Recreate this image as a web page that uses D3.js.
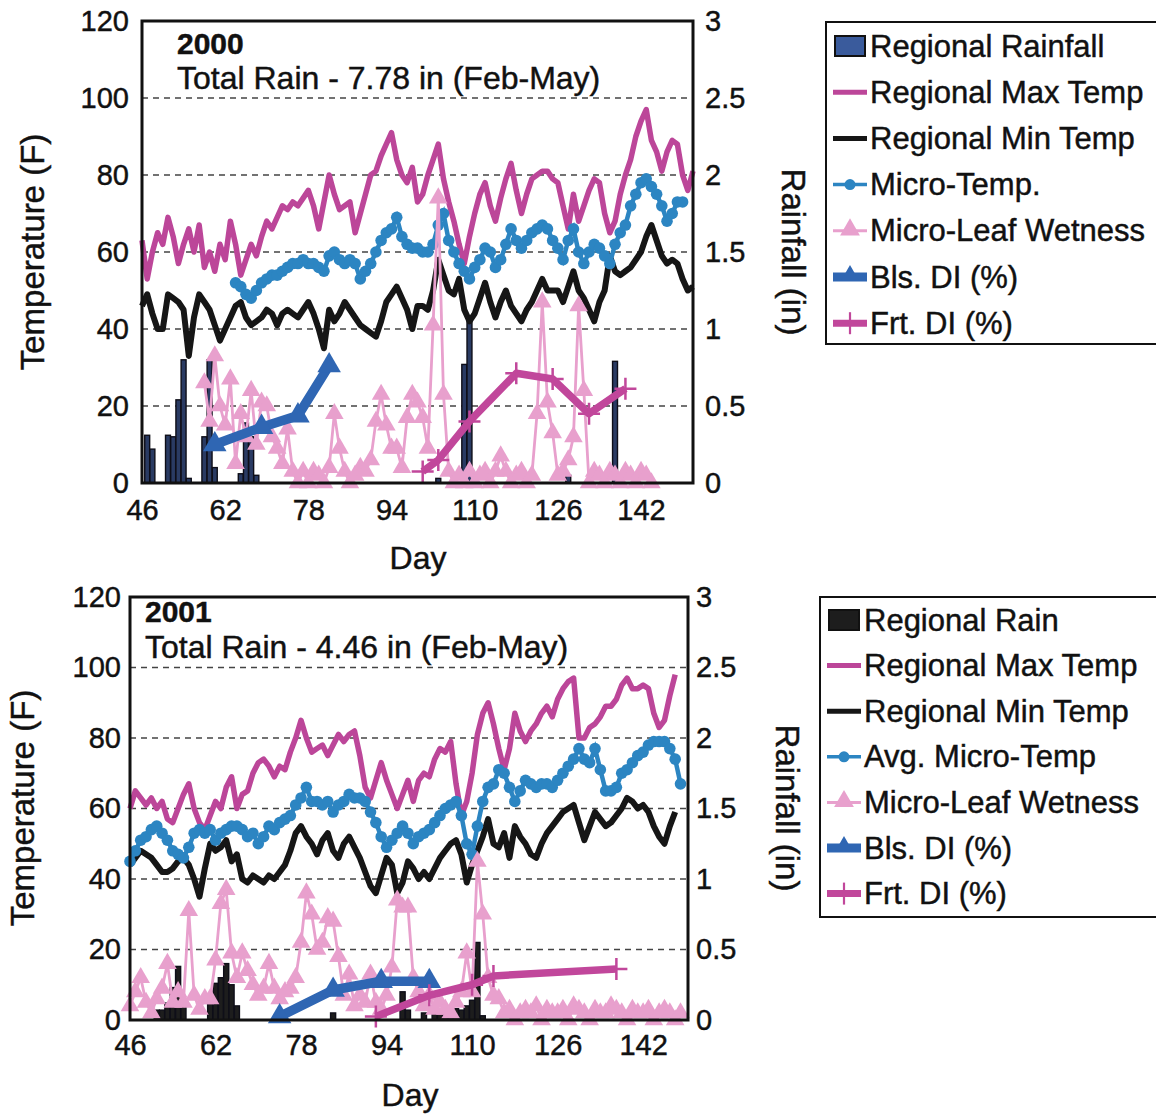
<!DOCTYPE html>
<html>
<head>
<meta charset="utf-8">
<script src="https://cdn.jsdelivr.net/npm/d3@7"></script>
<style>
  body { margin: 0; background: #fff; }
  svg { display: block; }
  svg text { stroke: #111; stroke-width: 0.45px; }
</style>
</head>
<body>
<svg id="chart" width="1156" height="1116"></svg>
<script>
// ---- 2000 season (values per day, first day given by *Start) ----
const maxStart2000 = 46;
const maxTemp2000 = [63,53,60,65,62,69,64,57,62,66, 60,67,56,60,55,62,58,68,62,54,
  58,62,59,64,68,66,69,72,71,73, 72,74,76,72,66,73,80,75,71,72,
  73,65,70,75,80,81,85,88,91,84, 80,78,82,73,75,80,84,88,79,73,
  68,62,57,64,70,75,78,72,68,74, 79,83,76,70,75,79,80,81,81,79,
  78,72,66,75,68,72,76,79,78,70, 65,68,75,80,84,90,94,97,89,86,
  81,86,89,88,80,76,81];
const minStart2000 = 46;
const minTemp2000 = [46,49,44,40,40,49,48,47,45,33, 43,49,47,45,41,37,40,43,46,47,
  43,41,42,43,45,44,41,44,45,44, 43,45,47,44,40,35,45,42,44,47,
  45,43,41,40,39,38,42,47,49,51, 48,45,40,46,46,45,50,58,54,50,
  49,53,45,42,44,48,52,47,43,47, 50,46,44,42,45,47,50,53,50,50,
  50,47,51,55,50,48,45,42,47,50, 59,55,54,55,56,58,60,64,67,63,
  59,57,58,57,53,50,51];
const microStart2000 = 64;
const microTemp2000 = [52,51,49,48,50,52,53,54,54,55, 56,57,57,58,57,57,56,55,59,60,
  58,57,58,57,53,55,57,60,63,65, 66,69,64,62,61,61,60,60,62,67,
  70,63,60,57,55,53,56,58,61,60, 56,58,62,66,63,61,63,65,66,67,
  66,63,61,58,63,66,60,57,60,62, 61,59,57,62,65,67,72,75,78,79,
  77,75,72,68,70,73,73];
const leafStart2000 = 58;
const leafWet2000 = [26,16,33,20,15,27,5,18,12,24, 10,21,20,12,9,5,14,3,0,3,
  0,3,2,0,4,18,9,3,0,2, 4,3,6,16,23,15,9,9,4,17,
  23,21,17,9,41,74,23,3,0,2, 0,3,0,2,3,0,3,7,3,0,
  2,3,0,2,18,47,21,13,2,3, 6,12,46,24,0,3,2,0,3,2,
  0,3,2,0,3,2,0];
const rainDays2000 = [47,48,51,52,53,54,55,58,59,60,65,66,67,68,103,108,109,128,137];
const rain2000 = [0.31,0.22,0.31,0.30,0.54,0.80,0.03,0.30,0.80,0.10,0.06,0.39,0.30,0.05,0.03,0.77,1.05,0.05,0.79];
const blsDays2000 = [60, 69, 76, 82];
const bls2000 = [10, 14.5, 17.5, 30.5];
const frtDays2000 = [100, 103, 109, 118, 125, 132, 139];
const frt2000 = [3, 6, 16, 28.5, 27, 18, 24.5];

// ---- 2001 season ----
const maxStart2001 = 46;
const maxTemp2001 = [60,65,63,61,63,60,62,57,56,60, 64,67,60,56,54,58,62,60,66,69,
  60,64,65,70,73,74,72,69,72,71, 76,80,85,80,76,77,78,75,78,81,
  79,81,82,75,66,63,68,73,68,64, 60,64,68,62,68,70,69,74,77,76,
  79,67,58,62,70,81,87,90,84,77, 71,77,87,82,79,82,84,87,89,86,
  91,94,96,97,80,80,83,84,86,89, 89,91,95,97,94,94,95,94,87,83,
  85,92,98];
const minStart2001 = 46;
const minTemp2001 = [44,46,48,47,46,44,42,42,43,45, 46,44,40,35,43,50,48,49,51,45,
  47,40,39,41,40,39,41,40,42,44, 48,53,55,52,50,47,51,53,48,46,
  50,52,49,46,42,38,36,41,46,44, 36,39,45,43,40,42,40,43,46,48,
  50,51,47,39,44,48,52,57,50,49, 53,46,55,52,50,47,46,50,53,55,
  57,59,60,61,56,51,55,59,57,55, 56,58,60,63,62,60,61,59,55,52,
  50,55,59];
const microStart2001 = 46;
const microTemp2001 = [45,48,51,52,54,55,53,51,48,47, 46,49,53,54,53,54,51,53,54,55,
  55,54,52,53,50,52,55,54,56,57, 58,61,63,66,62,62,61,62,59,61,
  62,64,63,63,62,59,56,52,49,51, 53,55,53,50,52,53,54,56,58,60,
  61,62,58,50,47,55,62,66,67,71, 70,66,62,65,68,67,66,67,67,66,
  68,70,72,74,77,74,73,77,71,65, 65,66,70,71,73,75,76,78,79,79,
  79,77,74,67];
const leafStart2001 = 46;
const leafWet2001 = [4,8,12,5,2,6,9,16,5,8, 5,31,7,3,6,6,17,33,37,19,
  12,19,14,10,7,9,16,9,6,8, 9,12,22,36,30,20,22,29,28,18,
  7,13,4,7,5,13,5,3,7,15, 34,32,32,12,8,4,7,3,5,3,
  2,5,8,19,8,45,30,12,7,6, 2,3,0,2,3,2,4,0,3,2,
  2,3,0,4,3,2,0,3,2,2, 4,3,2,0,3,2,2,3,0,2,
  3,2,0,2];
const rainDays2001 = [51,52,53,54,55,56,61,62,63,64,65,66,74,84,97,98,101,103,104,105,106,107,108,109,110,111,112];
const rain2001 = [0.07,0.07,0.12,0.23,0.38,0.14,0.14,0.26,0.30,0.40,0.25,0.10,0.03,0.05,0.20,0.07,0.05,0.08,0.05,0.04,0.06,0.08,0.07,0.10,0.14,0.55,0.03];
const blsDays2001 = [74, 84, 93, 102];
const bls2001 = [1, 8.5, 11, 11];
const frtDays2001 = [92, 102, 110, 114, 137];
const frt2001 = [1, 7, 10, 12.5, 14.5];

// ---- axes / legends ----
const tempTicks = [0, 20, 40, 60, 80, 100, 120];
const rainTicks = [0, 0.5, 1, 1.5, 2, 2.5, 3];
const dayTicks = [46, 62, 78, 94, 110, 126, 142];
const legend2000 = ["Regional Rainfall", "Regional Max Temp", "Regional Min Temp", "Micro-Temp.",
  "Micro-Leaf Wetness", "Bls. DI (%)", "Frt. DI (%)"];
const legend2001 = ["Regional Rain", "Regional Max Temp", "Regional Min Temp", "Avg. Micro-Temp",
  "Micro-Leaf Wetness", "Bls. DI (%)", "Frt. DI (%)"];

const FONT = '"Liberation Sans", Arial, Helvetica, sans-serif';
const C = {
  max: "#bc4699", min: "#161616", micro: "#2c85c2", leaf: "#e8a0cd",
  bls: "#2f66b3", frt: "#c1479b", grid: "#444"
};

const svg = d3.select("#chart");
svg.append("rect").attr("width", 1156).attr("height", 1116).attr("fill", "#fff");

const daily = (start, arr) => arr.map((v, i) => [start + i, v]);
const pairs = (days, vals) => days.map((d, i) => [d, vals[i]]);
const plusPath = "M-11,0H11M0,-11V11";

function drawPanel(p) {
  const x = d3.scaleLinear().domain(p.xDomain).range([p.left, p.right]);
  const y = d3.scaleLinear().domain([0, 120]).range([p.bottom, p.top]);
  const yR = d3.scaleLinear().domain([0, 3]).range([p.bottom, p.top]);
  const g = svg.append("g");

  // dashed gridlines
  g.append("g").selectAll("line").data(tempTicks.slice(1, -1)).join("line")
    .attr("x1", p.left).attr("x2", p.right)
    .attr("y1", d => y(d)).attr("y2", d => y(d))
    .attr("stroke", C.grid).attr("stroke-width", 1.5).attr("stroke-dasharray", "6,5");

  // rainfall bars (right axis)
  const bw = x(p.xDomain[0] + 0.95) - x(p.xDomain[0]);
  g.append("g").selectAll("rect").data(pairs(p.rainDays, p.rain)).join("rect")
    .attr("x", d => x(d[0]) - bw / 2).attr("width", bw)
    .attr("y", d => yR(d[1])).attr("height", d => yR(0) - yR(d[1]))
    .attr("fill", p.rainFill).attr("stroke", "#0e0e18").attr("stroke-width", 1.4);

  const line = d3.line().x(d => x(d[0])).y(d => y(d[1]));

  // max / min temperature
  g.append("path").datum(daily(p.maxStart, p.maxTemp)).attr("d", line)
    .attr("fill", "none").attr("stroke", C.max).attr("stroke-width", 5.5).attr("stroke-linejoin", "round");
  g.append("path").datum(daily(p.minStart, p.minTemp)).attr("d", line)
    .attr("fill", "none").attr("stroke", C.min).attr("stroke-width", 6).attr("stroke-linejoin", "round");

  // micro temperature
  const micro = daily(p.microStart, p.microTemp);
  g.append("path").datum(micro).attr("d", line)
    .attr("fill", "none").attr("stroke", C.micro).attr("stroke-width", 4.5);
  g.append("g").selectAll("circle").data(micro).join("circle")
    .attr("cx", d => x(d[0])).attr("cy", d => y(d[1])).attr("r", 5.8)
    .attr("fill", C.micro);

  // leaf wetness
  const leaf = daily(p.leafStart, p.leafWet);
  g.append("path").datum(leaf).attr("d", line)
    .attr("fill", "none").attr("stroke", C.leaf).attr("stroke-width", 2.8);
  const tri = d3.symbol().type(d3.symbolTriangle).size(150);
  g.append("g").selectAll("path").data(leaf).join("path")
    .attr("transform", d => `translate(${x(d[0])},${y(d[1])})`)
    .attr("d", tri).attr("fill", C.leaf);

  // blossom disease index
  const bls = pairs(p.blsDays, p.bls);
  g.append("path").datum(bls).attr("d", line)
    .attr("fill", "none").attr("stroke", C.bls).attr("stroke-width", 9.5).attr("stroke-linejoin", "round");
  const triBig = d3.symbol().type(d3.symbolTriangle).size(240);
  g.append("g").selectAll("path").data(bls).join("path")
    .attr("transform", d => `translate(${x(d[0])},${y(d[1])})`)
    .attr("d", triBig).attr("fill", C.bls);

  // fruit disease index
  const frt = pairs(p.frtDays, p.frt);
  g.append("path").datum(frt).attr("d", line)
    .attr("fill", "none").attr("stroke", C.frt).attr("stroke-width", 7.5).attr("stroke-linejoin", "round");
  g.append("g").selectAll("path").data(frt).join("path")
    .attr("transform", d => `translate(${x(d[0])},${y(d[1])})`)
    .attr("d", plusPath).attr("stroke", C.frt).attr("stroke-width", 2.5);

  // frame
  g.append("rect").attr("x", p.left).attr("y", p.top)
    .attr("width", p.right - p.left).attr("height", p.bottom - p.top)
    .attr("fill", "none").attr("stroke", "#111").attr("stroke-width", 3);

  const styleAxis = a => {
    a.select(".domain").remove();
    a.selectAll("text").attr("font-size", 29).attr("fill", "#111").attr("font-family", FONT);
  };
  g.append("g").attr("transform", `translate(${p.left},0)`)
    .call(d3.axisLeft(y).tickValues(tempTicks).tickSize(0).tickPadding(p.padL)).call(styleAxis);
  g.append("g").attr("transform", `translate(${p.right},0)`)
    .call(d3.axisRight(yR).tickValues(rainTicks).tickFormat(d => String(d)).tickSize(0).tickPadding(p.padR))
    .call(styleAxis);
  g.append("g").attr("transform", `translate(0,${p.bottom})`)
    .call(d3.axisBottom(x).tickValues(dayTicks).tickSize(0).tickPadding(p.padX)).call(styleAxis);

  // titles
  const title = (txt, tx, ty, rot, size) => g.append("text")
    .attr("transform", `translate(${tx},${ty}) rotate(${rot})`)
    .attr("text-anchor", "middle").attr("dominant-baseline", "central")
    .attr("font-family", FONT).attr("font-size", size).attr("fill", "#111").text(txt);
  title("Temperature (F)", p.tempTitle[0], p.tempTitle[1], -90, 33);
  title("Rainfall (in)", p.rainTitle[0], p.rainTitle[1], 90, 33);
  title("Day", p.dayTitle[0], p.dayTitle[1], 0, 32);

  g.append("text").attr("x", p.yearPos[0]).attr("y", p.yearPos[1])
    .attr("font-family", FONT).attr("font-size", 30).attr("font-weight", "bold").attr("fill", "#111")
    .text(p.year);
  g.append("text").attr("x", p.totalPos[0]).attr("y", p.totalPos[1])
    .attr("font-family", FONT).attr("font-size", 32).attr("fill", "#111")
    .text(p.total);
}

function drawLegend(L) {
  const g = svg.append("g");
  g.append("rect").attr("x", L.x).attr("y", L.y).attr("width", L.w).attr("height", L.h)
    .attr("fill", "#fff").attr("stroke", "#111").attr("stroke-width", 2);
  const x0 = L.symX, x1 = L.symX + 34, xm = L.symX + 17;
  L.items.forEach((name, i) => {
    const cy = L.firstY + i * L.step;
    const s = g.append("g");
    if (i === 0) {
      s.append("rect").attr("x", x0 + 2).attr("y", cy - 10).attr("width", 30).attr("height", 20)
        .attr("fill", L.rainFill).attr("stroke", "#111").attr("stroke-width", 2);
    } else if (i === 1 || i === 2) {
      s.append("line").attr("x1", x0).attr("x2", x1).attr("y1", cy).attr("y2", cy)
        .attr("stroke", i === 1 ? C.max : C.min).attr("stroke-width", 5);
    } else if (i === 3) {
      s.append("line").attr("x1", x0).attr("x2", x1).attr("y1", cy).attr("y2", cy)
        .attr("stroke", C.micro).attr("stroke-width", 3.5);
      s.append("circle").attr("cx", xm).attr("cy", cy).attr("r", 5.5).attr("fill", C.micro);
    } else if (i === 4) {
      s.append("line").attr("x1", x0).attr("x2", x1).attr("y1", cy).attr("y2", cy)
        .attr("stroke", C.leaf).attr("stroke-width", 3);
      s.append("path").attr("transform", `translate(${xm},${cy - 1})`)
        .attr("d", d3.symbol().type(d3.symbolTriangle).size(170)).attr("fill", C.leaf);
    } else if (i === 5) {
      s.append("line").attr("x1", x0).attr("x2", x1).attr("y1", cy).attr("y2", cy)
        .attr("stroke", C.bls).attr("stroke-width", 9);
      s.append("path").attr("transform", `translate(${xm},${cy - 2})`)
        .attr("d", d3.symbol().type(d3.symbolTriangle).size(130)).attr("fill", C.bls);
    } else {
      s.append("line").attr("x1", x0).attr("x2", x1).attr("y1", cy).attr("y2", cy)
        .attr("stroke", C.frt).attr("stroke-width", 7);
      s.append("path").attr("transform", `translate(${xm},${cy})`)
        .attr("d", "M0,-11V11").attr("stroke", C.frt).attr("stroke-width", 2.2);
    }
    g.append("text").attr("x", L.textX).attr("y", cy).attr("dominant-baseline", "central")
      .attr("font-family", FONT).attr("font-size", 31).attr("fill", "#111").text(name);
  });
}

drawPanel({
  left: 142, right: 693, top: 21, bottom: 483, xDomain: [46, 152],
  padL: 13, padR: 12, padX: 16,
  tempTitle: [32, 252], rainTitle: [793, 252], dayTitle: [418, 558],
  year: "2000", yearPos: [177, 54], total: "Total Rain - 7.78 in (Feb-May)", totalPos: [177, 89],
  rainFill: "#2a3b63",
  maxStart: maxStart2000, maxTemp: maxTemp2000, minStart: minStart2000, minTemp: minTemp2000,
  microStart: microStart2000, microTemp: microTemp2000, leafStart: leafStart2000, leafWet: leafWet2000,
  rainDays: rainDays2000, rain: rain2000, blsDays: blsDays2000, bls: bls2000, frtDays: frtDays2000, frt: frt2000
});

drawPanel({
  left: 130, right: 688, top: 597, bottom: 1020, xDomain: [46, 150.4],
  padL: 9, padR: 8, padX: 14,
  tempTitle: [22, 808], rainTitle: [787, 808], dayTitle: [410, 1095],
  year: "2001", yearPos: [145, 622], total: "Total Rain - 4.46 in (Feb-May)", totalPos: [145, 658],
  rainFill: "#1d1d1d",
  maxStart: maxStart2001, maxTemp: maxTemp2001, minStart: minStart2001, minTemp: minTemp2001,
  microStart: microStart2001, microTemp: microTemp2001, leafStart: leafStart2001, leafWet: leafWet2001,
  rainDays: rainDays2001, rain: rain2001, blsDays: blsDays2001, bls: bls2001, frtDays: frtDays2001, frt: frt2001
});

drawLegend({ x: 826, y: 22, w: 345, h: 322, symX: 833, textX: 870, firstY: 46, step: 46.2,
  rainFill: "#3a5b9c", items: legend2000 });
drawLegend({ x: 820, y: 597, w: 350, h: 320, symX: 827, textX: 864, firstY: 620, step: 45.6,
  rainFill: "#1d1d1d", items: legend2001 });
</script>
</body>
</html>
